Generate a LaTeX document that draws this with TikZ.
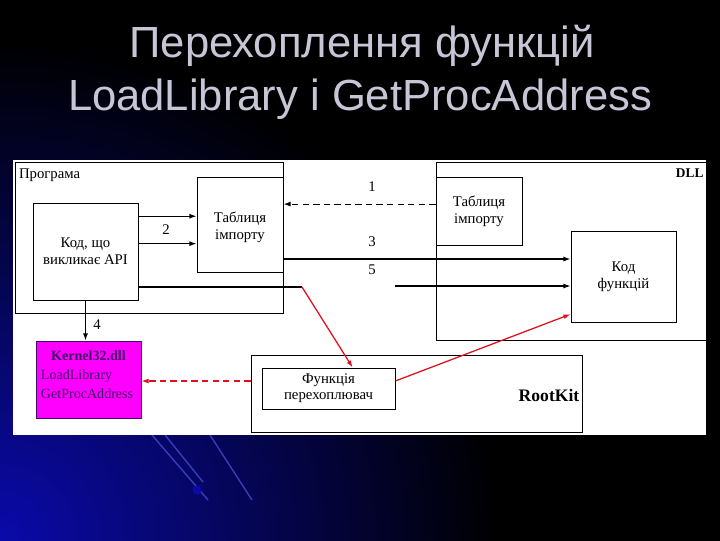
\documentclass[tikz,border=0pt]{standalone}
\usepackage{fontspec}
\setmainfont{Liberation Serif}
\newfontfamily\titlefont{Liberation Sans}
\usetikzlibrary{arrows.meta,positioning,fit,calc}
\definecolor{slidegray}{HTML}{C6C6D6}
\definecolor{slideblue}{HTML}{0A0AAA}
\definecolor{kernmag}{HTML}{FF00FF}
\definecolor{kerntext}{HTML}{3C1064}
\definecolor{hookred}{HTML}{E0101C}
\begin{document}
\begin{tikzpicture}[x=0.025cm,y=-0.025cm,>={Latex[length=5pt,width=3.5pt]},
 blok/.style={draw,line width=.7pt,fill=white,inner sep=0pt},
 lbl/.style={inner sep=0pt,align=center,font=\fontsize{10.5}{12}\selectfont},
 num/.style={inner sep=1pt,font=\fontsize{10.5}{12}\selectfont},
 lijn/.style={line width=.8pt},
 hook/.style={hookred,line width=.9pt,->}]
 \useasboundingbox (0,0) rectangle (720,540);
 % slide background
 \fill[black] (-5,-5) rectangle (725,545);
 \begin{scope}
  \clip (0,0) rectangle (720,540);
  \shade[inner color=slideblue,outer color=black] (0,540) circle (500);
 \end{scope}
 \foreach \xa/\ya/\xb/\yb in {152/435/208/500,165/435/203/482,210/435/252/500}{
  \draw[slideblue!80,line width=1pt] (\xa,\ya) -- (\xb,\yb);}
 \fill[slideblue] (197,490) circle (4.5);
 \node[font=\titlefont\fontsize{31}{36}\selectfont,text=slidegray,anchor=base] (t1) at (362,57) {Перехоплення функцій};
 \node[font=\titlefont\fontsize{31}{36}\selectfont,text=slidegray,anchor=base] (t2) at (360,110) {LoadLibrary і GetProcAddress};
 \fill[white] (13,160) rectangle (706,435);
 % boxes
 \node[blok,fit={(15,162) (283,313)},label={[lbl,anchor=north west,xshift=3pt,yshift=-5pt]north west:Програма}] (prog) {};
 \node[blok,fit={(33,203) (138,300)},label={[lbl]center:{Код, що\\викликає API}}] (kod) {};
 \node[blok,fit={(197,177) (283,272)},label={[lbl,yshift=-2pt]center:{Таблиця\\імпорту}}] (tabL) {};
 \node[blok,fit={(436,162) (706,340)},label={[lbl,anchor=north east,xshift=-2pt,yshift=-5pt,font=\fontsize{9.5}{11}\selectfont\bfseries]north east:DLL}] (dll) {};
 \node[blok,fit={(436,177) (522,245)},label={[lbl]center:{Таблиця\\імпорту}}] (tabR) {};
 \node[blok,fit={(571,231) (676,322)},label={[lbl]center:{Код\\функцій}}] (kodf) {};
 \node[blok,fit={(251,355) (582,432)}] (rk) {};
 \node[lbl,font=\fontsize{12.5}{14}\selectfont\bfseries] at (549,395) {RootKit};
 \node[blok,fit={(262,368) (395,409)},label={[lbl,font=\fontsize{10.5}{11.5}\selectfont]center:{Функція\\перехоплювач}}] (fun) {};
 \node[blok,fit={(36,341) (141,418)},fill=kernmag,draw=kerntext,
  label={[lbl,yshift=3.5pt,text=kerntext,align=left,text width=2.375cm,font=\fontsize{10}{13.5}\selectfont]center:{\makebox[\linewidth]{\bfseries Kernel32.dll}\\LoadLibrary\\GetProcAddress}}] (kern) {};
 % connectors
 \draw[lijn,->] ($(kod.north east)!.14!(kod.south east)$) coordinate (a2) -- (tabL.west |- a2);
 \draw[lijn,->] ($(kod.north east)!.42!(kod.south east)$) coordinate (b2) -- (tabL.west |- b2);
 \draw[lijn,dash pattern=on 4.5pt off 3pt,->] ($(tabR.north west)!.40!(tabR.south west)$) coordinate (a1) -- (tabL.east |- a1);
 \coordinate (a3) at ($(kodf.north west)!.31!(kodf.south west)$);
 \draw[lijn,->] (tabL.east |- a3) -- (a3);
 \coordinate (p5) at (395,286);
 \draw[lijn,->] (p5) -- (kodf.west |- p5);
 \draw[lijn,->] (kod.south) -- (kod.south |- kern.north);
 \coordinate (bend) at (302,287);
 \draw[lijn] (kod.east |- bend) -- (bend);
 \draw[hook] (bend) -- ($(fun.north west)!.68!(fun.north east)$);
 \draw[hook] ($(fun.north east)!.32!(fun.south east)$) -- ($(kodf.north west)!.91!(kodf.south west)$);
 \draw[hook,dash pattern=on 4.5pt off 3pt] ($(rk.north west)!.34!(rk.south west)$) coordinate (r1) -- (kern.east |- r1);
 % step numbers
 \foreach \x/\y/\n in {372/187/1,166/230/2,372/242/3,97/325/4,372/270/5}{
  \node[num] at (\x,\y) {\n};}
\end{tikzpicture}
\end{document}
